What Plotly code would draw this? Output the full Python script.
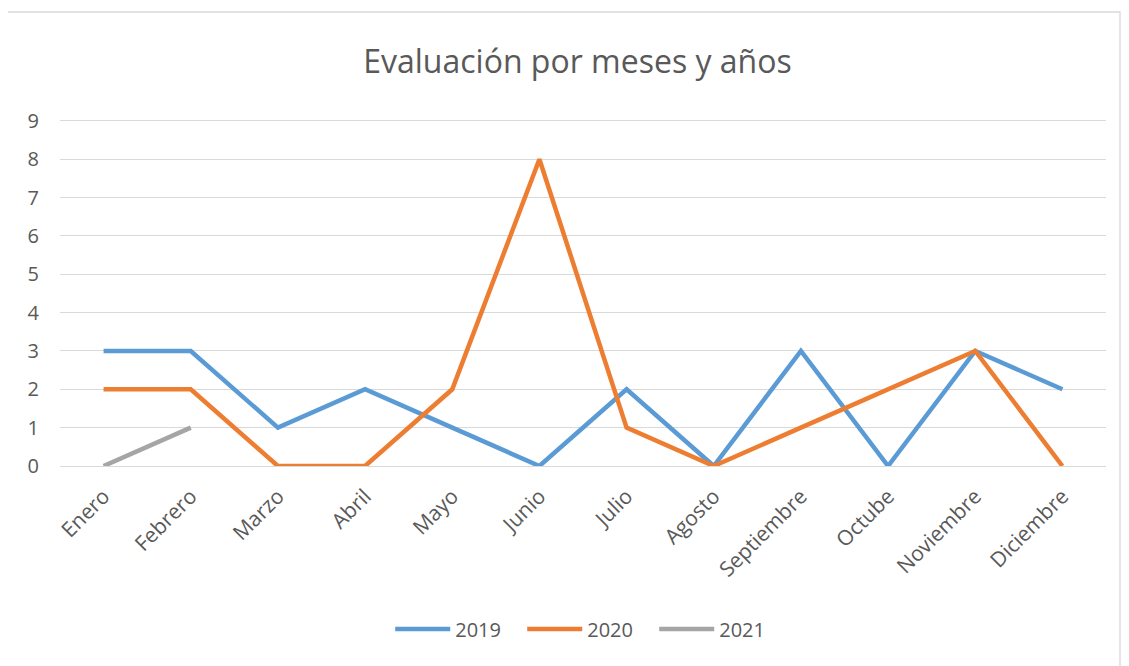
import plotly.graph_objects as go

meses = ["Enero", "Febrero", "Marzo", "Abril", "Mayo", "Junio", "Julio",
         "Agosto", "Septiembre", "Octube", "Noviembre", "Diciembre"]
v2019 = [3, 3, 1, 2, 1, 0, 2, 0, 3, 0, 3, 2]
v2020 = [2, 2, 0, 0, 2, 8, 1, 0, 1, 2, 3, 0]
v2021 = [0, 1]

colors = {"2019": "#5B9BD5", "2020": "#ED7D31", "2021": "#A5A5A5"}
font_fam = "Open Sans, Liberation Sans, sans-serif"

W, H = 1121, 658  # page body has an 8px margin
OFF = 8

fig = go.Figure()
for name, vals in [("2019", v2019), ("2020", v2020), ("2021", v2021)]:
    fig.add_trace(go.Scatter(
        x=meses[:len(vals)], y=vals, name=name, mode="lines",
        line=dict(color=colors[name], width=4.5, shape="linear"),
    ))

YMAX = 9.05
L, R, T, B = 60 - OFF, 23, 111, 200
pw = W - L - R
ph = H - T - B
y0px = OFF + T + ph  # pixel of y=0 in window

fig.update_layout(
    width=W, height=H,
    margin=dict(l=L, r=R, t=T, b=B),
    paper_bgcolor="white", plot_bgcolor="white",
    font=dict(family=font_fam, color="#595959", size=20),
    title=dict(text="Evaluación por meses y años", x=0.508, xanchor="center",
               y=1 - (62 - OFF) / H, yanchor="middle", yref="container",
               font=dict(size=32, color="#595959", family=font_fam)),
    xaxis=dict(type="category", categoryorder="array", categoryarray=meses,
               range=[-0.5, 11.5], tickangle=-45, showgrid=False,
               showline=False, zeroline=False, ticks="",
               ticklabelstandoff=13,
               tickfont=dict(size=21, color="#595959")),
    yaxis=dict(range=[0, YMAX], dtick=1, tick0=0, showgrid=True,
               gridcolor="#D9D9D9", gridwidth=1.3, zeroline=True,
               zerolinecolor="#D9D9D9", zerolinewidth=1.3, showline=False,
               ticks="", ticklabelstandoff=20,
               tickfont=dict(size=20, color="#595959")),
    legend=dict(orientation="h", x=0.505, xanchor="center",
                y=-(629 - y0px) / ph, yanchor="middle",
                font=dict(size=20, color="#595959"),
                itemwidth=55, entrywidth=62, entrywidthmode="pixels",
                tracegroupgap=0),
    showlegend=True,
)

fig.add_shape(type="rect", xref="paper", yref="paper",
              x0=(7 - 60) / pw, x1=(1120 - 60) / pw,
              y0=-(680 - y0px) / ph, y1=(y0px - 12) / ph,
              line=dict(color="#D9D9D9", width=1.3), fillcolor="rgba(0,0,0,0)",
              layer="below")

fig.write_html("out.html")
